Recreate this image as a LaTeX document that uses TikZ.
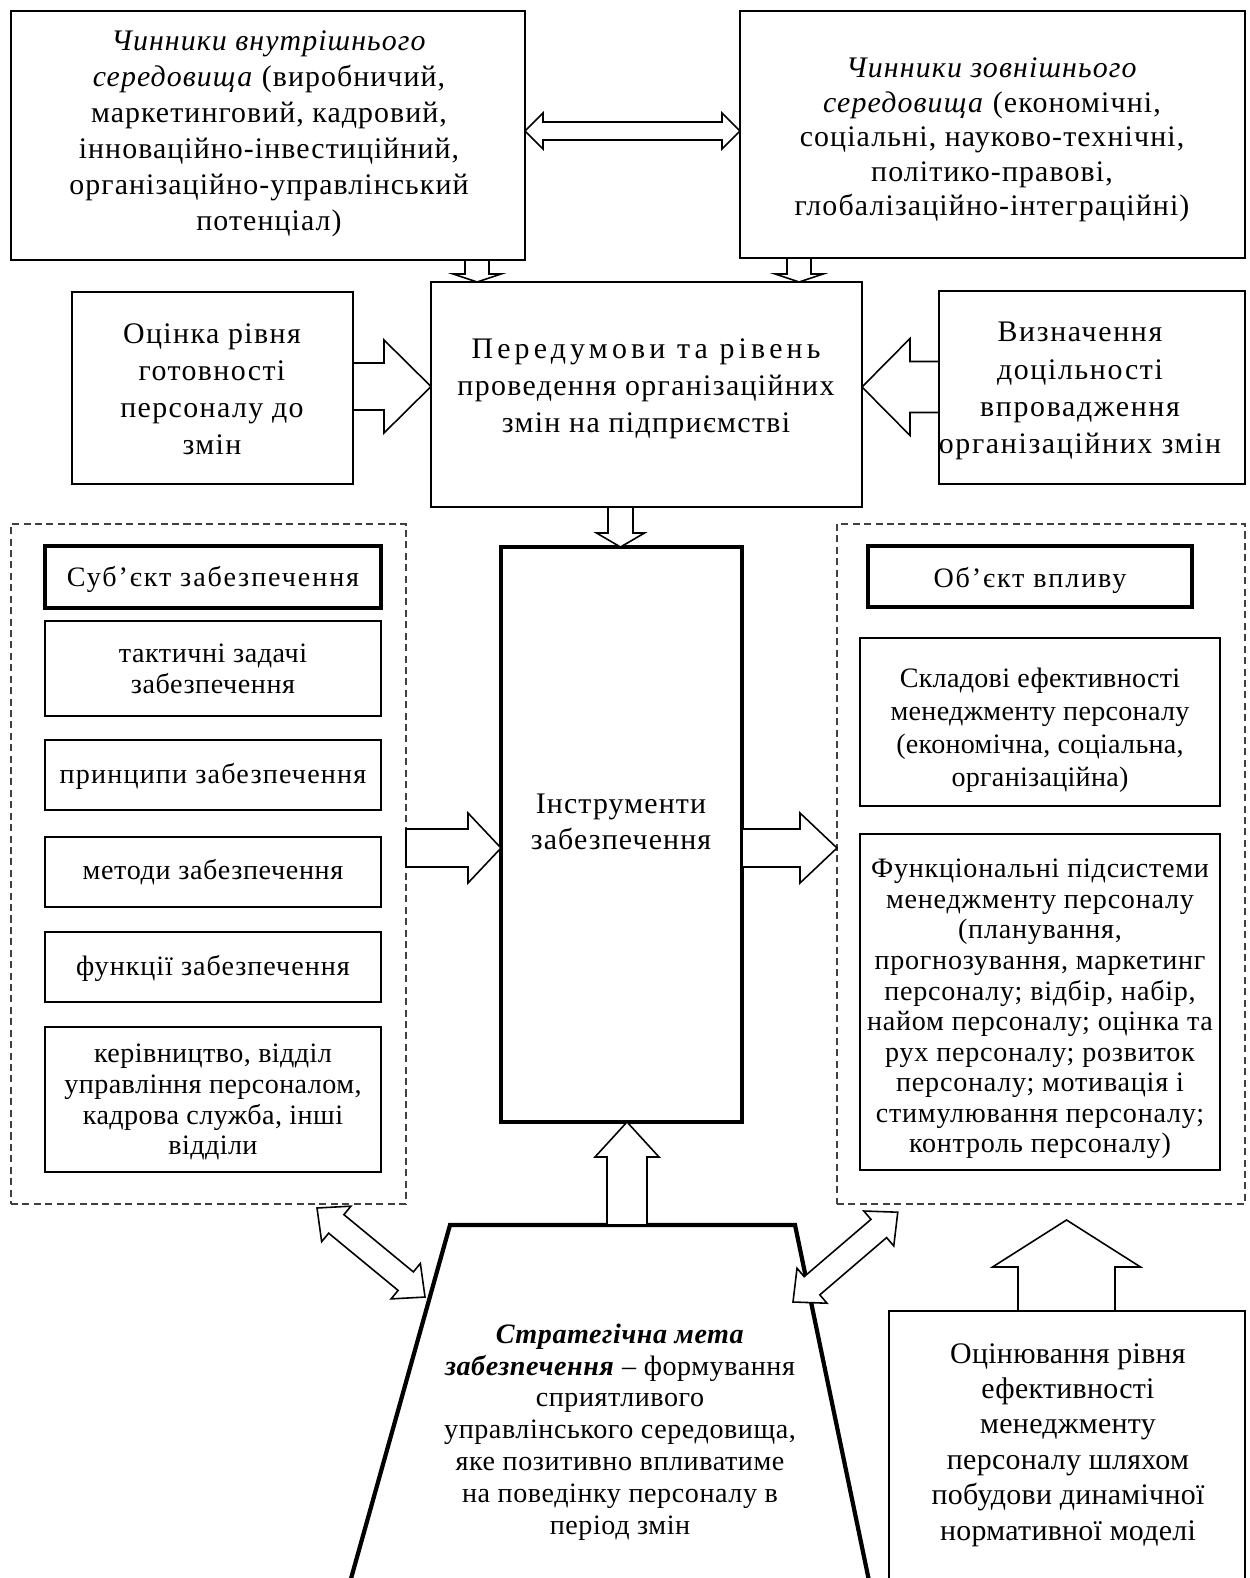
\documentclass[tikz,border=0pt]{standalone}
\usepackage{fontspec}
\setmainfont{Liberation Serif}
\usetikzlibrary{calc,fit}
\newcommand\lsp[1]{\addfontfeatures{LetterSpace=#1}}
\tikzset{
  box/.style={draw=black, line width=0.9pt, fill=white, inner sep=0pt},
  thickbox/.style={box, line width=2.4pt},
  dashbox/.style={draw=black!75, line width=0.9pt, dash pattern=on 4pt off 2.5pt, inner sep=0pt},
  bigtxt/.style={align=center, inner sep=0pt, font=\fontsize{17}{20.5}\selectfont},
  midtxt/.style={align=center, inner sep=0pt, font=\fontsize{16}{17.6}\selectfont},
  barrow/.style={draw=black, line width=0.9pt, fill=white, line join=miter},
}
% single block arrow: x, y of tail centre, angle, length, shaft half width, head half width, head length
\newcommand\blockarrow[7]{%
  \begin{scope}[shift={(#1,#2)},rotate=#3]
    \draw[barrow] (0,-#5) -- ({#4-#7},-#5) -- ({#4-#7},-#6) -- (#4,0)
      -- ({#4-#7},#6) -- ({#4-#7},#5) -- (0,#5) -- cycle;
  \end{scope}}
% double block arrow
\newcommand\dblarrow[7]{%
  \begin{scope}[shift={(#1,#2)},rotate=#3]
    \draw[barrow] (0,0) -- (#7,-#6) -- (#7,-#5) -- ({#4-#7},-#5) -- ({#4-#7},-#6) -- (#4,0)
      -- ({#4-#7},#6) -- ({#4-#7},#5) -- (#7,#5) -- (#7,#6) -- cycle;
  \end{scope}}
\begin{document}
\begin{tikzpicture}[x=0.02cm,y=-0.02cm]
\useasboundingbox (0,0) rectangle (1250,1578);
\clip (0,0) rectangle (1250,1578);
\fill[white] (0,0) rectangle (1250,1578);

% top boxes
\node[box, fit={(11,11) (525,260)}] (inner) {};
\node[box, fit={(740,11) (1245,258)}] (outer) {};
\node[bigtxt, font=\fontsize{17}{20.5}\selectfont\lsp{3.6}] (innert) at (269,134)
  {\textit{Чинники внутрішнього}\\ \textit{середовища} (виробничий,\\ маркетинговий, кадровий,\\ інноваційно-інвестиційний,\\ організаційно-управлінський\\ потенціал)};
\node[bigtxt, font=\fontsize{17}{19.7}\selectfont\lsp{3.8}] (outert) at (992,140)
  {\textit{Чинники зовнішнього}\\ \textit{середовища} (економічні,\\ соціальні, науково-технічні,\\ політико-правові,\\ глобалізаційно-інтеграційні)};

% middle row
\node[box, fit={(431,282) (862,507)}] (perd) {};
\node[box, fit={(72,292) (353,484)}] (ready) {};
\node[box, fit={(939,291) (1245,484)}] (feas) {};
\node[bigtxt, font=\fontsize{17}{21}\selectfont\lsp{4.5}] (perdt) at (646,389)
  {{\lsp{14}Передумови та рівень}\\ проведення організаційних\\ змін на підприємстві};
\node[bigtxt, font=\fontsize{17}{21.1}\selectfont\lsp{4.7}] (readyt) at (212,389)
  {Оцінка рівня\\ готовності\\ персоналу до\\ змін};
\node[bigtxt, font=\fontsize{17}{21.1}\selectfont\lsp{5.6}] (feast) at (1080,391)
  {Визначення\\ доцільності\\ впровадження\\ організаційних змін};

% containers
\node[dashbox, fit={(11,524) (406,1204)}] (ldash) {};
\node[dashbox, fit={(837,524) (1245,1204)}] (rdash) {};
\node[thickbox, fit={(501,547) (742,1122)}] (instr) {};
\node[bigtxt, font=\fontsize{17}{20.5}\selectfont\lsp{3.8}] (instrt) at (621,822) {Інструменти\\ забезпечення};

% left column
\node[thickbox, fit={(45,546) (381,608)}] (subj) {};
\node[box, fit={(45,621) (381,716)}] (tact) {};
\node[box, fit={(45,740) (381,810)}] (princ) {};
\node[box, fit={(45,837) (381,907)}] (meth) {};
\node[box, fit={(45,932) (381,1002)}] (func) {};
\node[box, fit={(45,1027) (381,1172)}] (mgmt) {};
\node[midtxt, font=\fontsize{16}{17.6}\selectfont\lsp{6.8}] (subjt) at (213,579) {Суб’єкт забезпечення};
\node[midtxt, font=\fontsize{16}{17.6}\selectfont\lsp{2}] (tactt) at (213,669) {тактичні задачі\\ забезпечення};
\node[midtxt, font=\fontsize{16}{17.6}\selectfont\lsp{4.2}] (princt) at (213,776) {принципи забезпечення};
\node[midtxt, font=\fontsize{16}{17.6}\selectfont\lsp{2.3}] (metht) at (213,872) {методи забезпечення};
\node[midtxt, font=\fontsize{16}{17.6}\selectfont\lsp{3.5}] (funct) at (213,968) {функції забезпечення};
\node[midtxt, font=\fontsize{16}{17.6}\selectfont\lsp{1.5}] (mgmtt) at (213,1102) {керівництво, відділ\\ управління персоналом,\\ кадрова служба, інші\\ відділи};

% right column
\node[thickbox, fit={(868,546) (1192,607)}] (obj) {};
\node[box, fit={(860,638) (1220,806)}] (comp) {};
\node[box, fit={(860,834) (1220,1170)}] (subs) {};
\node[midtxt, font=\fontsize{16}{17.6}\selectfont\lsp{6.6}] (objt) at (1030,580) {Об’єкт впливу};
\node[midtxt, font=\fontsize{16}{18.7}\selectfont\lsp{1}] (compt) at (1040,730)
  {Складові ефективності\\ менеджменту персоналу\\ (економічна, соціальна,\\ організаційна)};
\node[midtxt, font=\fontsize{16}{17.4}\selectfont\lsp{2.7}] (subst) at (1040,1009)
  {Функціональні підсистеми\\ менеджменту персоналу\\ (планування,\\ прогнозування, маркетинг\\ персоналу; відбір, набір,\\ найом персоналу; оцінка та\\ рух персоналу; розвиток\\ персоналу; мотивація і\\ стимулювання персоналу;\\ контроль персоналу)};

% bottom
\draw[line width=2.4pt, fill=white, line join=miter] (345,1600) -- (450,1225) -- (795,1225) -- (873,1600);
\node[midtxt, font=\fontsize{16}{18.1}\selectfont\lsp{2}] (goalt) at (620,1432)
  {\textbf{\textit{Стратегічна мета}}\\ \textbf{\textit{забезпечення}} – формування\\ сприятливого\\ управлінського середовища,\\ яке позитивно впливатиме\\ на поведінку персоналу в\\ період змін};
\node[box, fit={(889,1311) (1245,1620)}] (eval) {};
\node[bigtxt, font=\fontsize{17}{20.2}\selectfont\lsp{1}] (evalt) at (1068,1445)
  {Оцінювання рівня\\ ефективності\\ менеджменту\\ персоналу шляхом\\ побудови динамічної\\ нормативної моделі};

% block arrows
\dblarrow{525}{131}{0}{215}{9}{18}{18}
\blockarrow{477}{260}{-90}{22}{12}{24}{8}
\blockarrow{799}{258}{-90}{24}{12}{24}{8}
\blockarrow{353}{386.5}{0}{78}{23.5}{46.5}{47}
\blockarrow{939}{387}{180}{77}{25.5}{48.5}{48}
\blockarrow{620.5}{507}{-90}{40}{12.5}{24}{14}
\blockarrow{406}{848}{0}{95}{19}{35}{33}
\blockarrow{742}{848}{0}{95}{19}{35}{37}
\blockarrow{627}{1225}{90}{103}{20}{32}{35}
\dblarrow{317}{1208}{-39.5}{140}{12}{23}{25}
\dblarrow{793}{1302}{40.6}{138}{12}{23}{25}
\blockarrow{1066.5}{1311}{90}{91}{48.5}{74}{47}
\end{tikzpicture}
\end{document}
